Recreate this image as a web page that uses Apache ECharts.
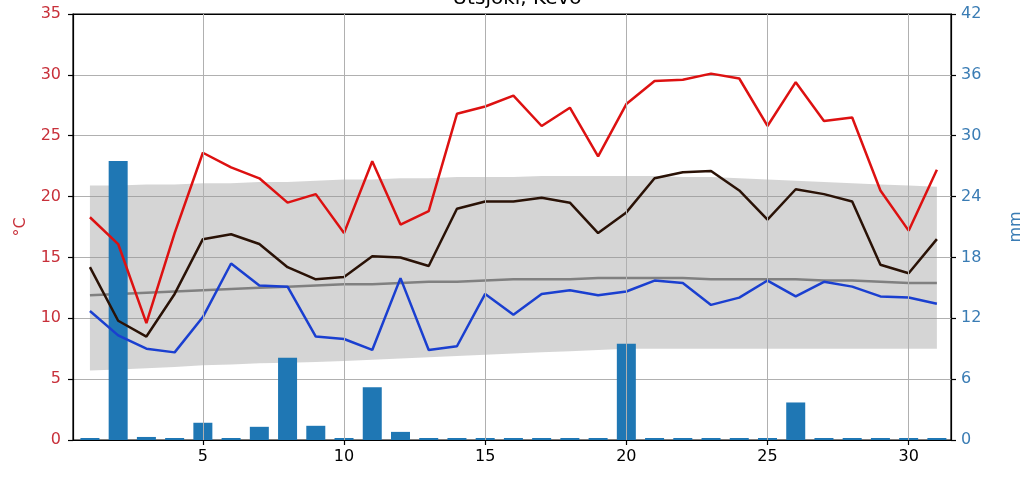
<!DOCTYPE html>
<html>
<head>
<meta charset="utf-8">
<script src="https://cdn.jsdelivr.net/npm/echarts@6/dist/echarts.min.js"></script>
<style>html,body{margin:0;padding:0;background:#fff}#c{width:1034px;height:483px}</style>
</head>
<body>
<div id="c"></div>
<script>
const days = [1,2,3,4,5,6,7,8,9,10,11,12,13,14,15,16,17,18,19,20,21,22,23,24,25,26,27,28,29,30,31];
const tMax = [18.3,16.1,9.6,17.0,23.6,22.4,21.5,19.5,20.2,17.0,22.9,17.7,18.8,26.8,27.4,28.3,25.8,27.3,23.3,27.6,29.5,29.6,30.1,29.7,25.8,29.4,26.2,26.5,20.5,17.2,22.2];
const tMean = [14.2,9.8,8.5,12.0,16.5,16.9,16.1,14.2,13.2,13.4,15.1,15.0,14.3,19.0,19.6,19.6,19.9,19.5,17.0,18.7,21.5,22.0,22.1,20.5,18.1,20.6,20.2,19.6,14.4,13.7,16.5];
const tMin = [10.6,8.6,7.5,7.2,10.1,14.5,12.7,12.6,8.5,8.3,7.4,13.3,7.4,7.7,12.0,10.3,12.0,12.3,11.9,12.2,13.1,12.9,11.1,11.7,13.1,11.8,13.0,12.6,11.8,11.7,11.2];
const climMean = [11.9,12.0,12.1,12.2,12.3,12.4,12.5,12.6,12.7,12.8,12.8,12.9,13.0,13.0,13.1,13.2,13.2,13.2,13.3,13.3,13.3,13.3,13.2,13.2,13.2,13.2,13.1,13.1,13.0,12.9,12.9];
const climLow = [5.7,5.8,5.9,6.0,6.15,6.2,6.3,6.35,6.4,6.5,6.6,6.7,6.8,6.9,7.0,7.1,7.2,7.3,7.4,7.5,7.5,7.5,7.5,7.5,7.5,7.5,7.5,7.5,7.5,7.5,7.5];
const climHigh = [20.9,20.9,21.0,21.0,21.1,21.1,21.2,21.2,21.3,21.4,21.4,21.5,21.5,21.6,21.6,21.6,21.7,21.7,21.7,21.7,21.7,21.6,21.6,21.5,21.4,21.3,21.2,21.1,21.0,20.9,20.8];
const precip = [0.2,27.5,0.3,0.2,1.7,0.2,1.3,8.1,1.4,0.2,5.2,0.8,0.2,0.2,0.2,0.2,0.2,0.2,0.2,9.5,0.2,0.2,0.2,0.2,0.2,3.7,0.2,0.2,0.2,0.2,0.2];
const xTicks = [5,10,15,20,25,30];
const title = 'Utsjoki, Kevo';

const pair = arr => days.map((d,i)=>[d,arr[i]]);
const FONT = 'DejaVu Sans';
const chart = echarts.init(document.getElementById('c'), null, {renderer:'canvas'});
chart.setOption({
  animation:false,
  backgroundColor:'#fff',
  title:{text:title,left:'center',top:-16,textStyle:{fontFamily:FONT,fontSize:20,fontWeight:'normal',color:'#000'}},
  grid:{left:73,right:83,top:14,bottom:43,show:true,borderColor:'#000',borderWidth:1.2,backgroundColor:'transparent'},
  xAxis:[{type:'value',min:0.4,max:31.5,
    axisLine:{show:true,onZero:false,lineStyle:{color:'#000',width:1.2}},
    axisTick:{show:true,customValues:xTicks,length:5,inside:false,lineStyle:{color:'#000',width:1.2}},
    axisLabel:{customValues:xTicks,fontFamily:FONT,fontSize:16,color:'#000',margin:9},
    splitLine:{show:false}},
    {type:'value',position:'top',min:0.4,max:31.5,
    axisLine:{show:true,onZero:false,lineStyle:{color:'#000',width:1.2}},
    axisTick:{show:false},axisLabel:{show:false},splitLine:{show:false}}],
  yAxis:[
    {type:'value',min:0,max:35,interval:5,name:'°C',nameLocation:'middle',nameGap:44,nameRotate:90,
     nameTextStyle:{fontFamily:FONT,fontSize:16,color:'#c8303a'},
     axisLine:{show:true,lineStyle:{color:'#000',width:1.2}},
     axisTick:{show:true,length:5,lineStyle:{color:'#000',width:1.2}},
     axisLabel:{fontFamily:FONT,fontSize:16,color:'#c8303a',margin:12},
     splitLine:{show:true,lineStyle:{color:'#b0b0b0',width:1}}},
    {type:'value',min:0,max:42,interval:6,name:'mm',nameLocation:'middle',nameGap:57,nameRotate:90,
     nameTextStyle:{fontFamily:FONT,fontSize:16,color:'#3a7cb4'},
     axisLine:{show:true,lineStyle:{color:'#000',width:1.2}},
     axisTick:{show:true,length:5,lineStyle:{color:'#000',width:1.2}},
     axisLabel:{fontFamily:FONT,fontSize:16,color:'#3a7cb4',margin:10},
     splitLine:{show:false}}
  ],
  series:[
    {type:'line',data:[],z:0,silent:true,
     markLine:{silent:true,symbol:'none',label:{show:false},animation:false,
       lineStyle:{color:'#b0b0b0',width:1,type:'solid'},
       data:xTicks.map(v=>({xAxis:v}))}},
    {type:'custom',z:1,silent:true,
     data:days.map((d,i)=>[d,climLow[i],climHigh[i]]),
     encode:{x:0,y:[1,2]},
     renderItem:function(params,api){
       if(params.dataIndex!==0) return null;
       const pts=[];
       for(let i=0;i<days.length;i++) pts.push(api.coord([days[i],climHigh[i]]));
       for(let i=days.length-1;i>=0;i--) pts.push(api.coord([days[i],climLow[i]]));
       return {type:'polygon',shape:{points:pts},style:{fill:'rgba(150,150,150,0.4)',stroke:null}};
     }},
    {type:'line',z:2,data:pair(climMean),symbol:'none',lineStyle:{color:'#808080',width:2.5}},
    {type:'bar',z:3,yAxisIndex:1,data:pair(precip),barWidth:19,itemStyle:{color:'#1f77b4'}},
    {type:'line',z:4,data:pair(tMax),symbol:'none',lineStyle:{color:'#dd1111',width:2.5}},
    {type:'line',z:4,data:pair(tMean),symbol:'none',lineStyle:{color:'#2a1206',width:2.5}},
    {type:'line',z:4,data:pair(tMin),symbol:'none',lineStyle:{color:'#1a3fd0',width:2.5}}
  ]
});
</script>
</body>
</html>
